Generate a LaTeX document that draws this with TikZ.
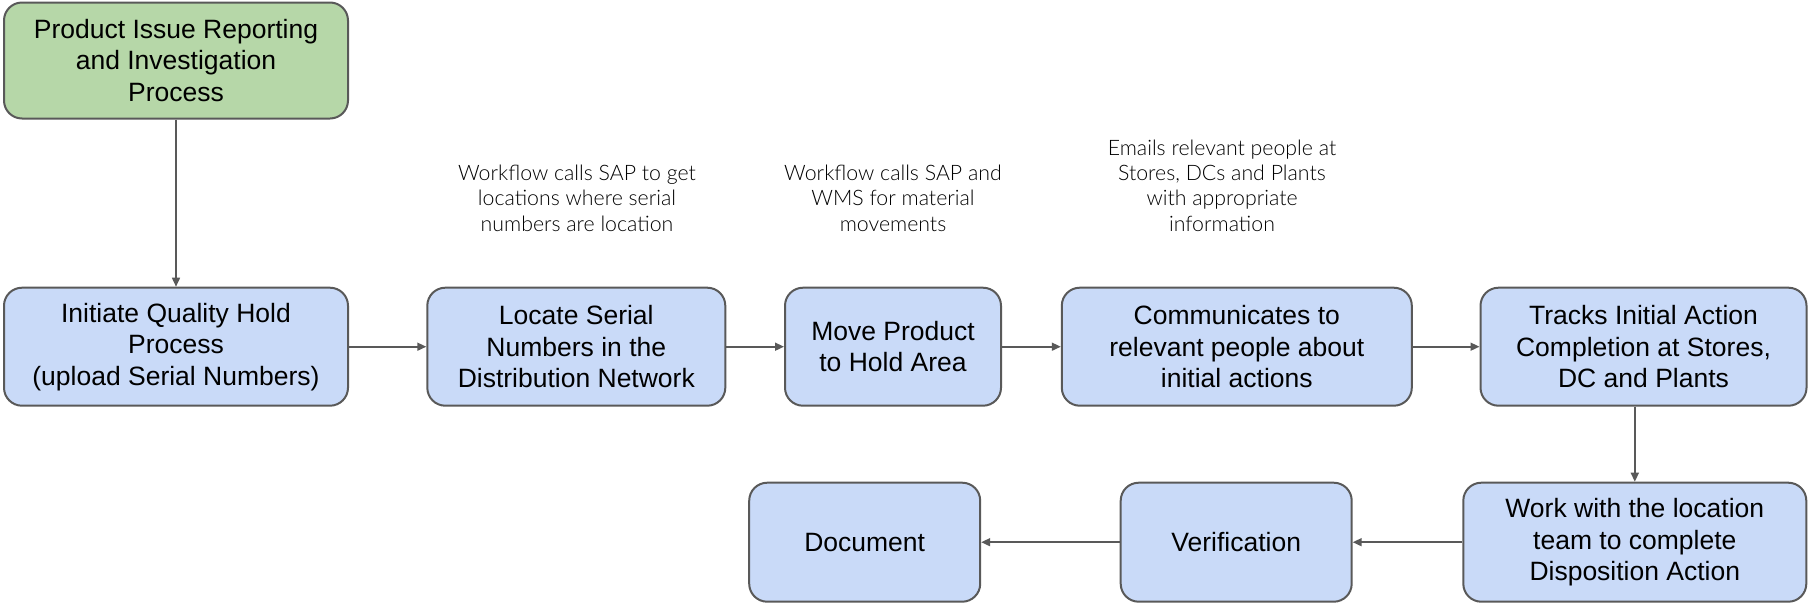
\documentclass[tikz,border=0pt]{standalone}
\usepackage{fontspec}
\setmainfont{Liberation Sans}
\newfontfamily\notefont{Lato Light}
\usetikzlibrary{arrows.meta}
\definecolor{boxblue}{HTML}{C9DAF8}
\definecolor{boxgreen}{HTML}{B6D7A8}
\definecolor{edge}{HTML}{595959}
\tikzset{
  proc/.style={draw=edge, line width=2pt, rounded corners=18pt, fill=boxblue,
    align=center, inner sep=0pt, minimum height=118pt,
    font=\fontsize{26.5}{31.5}\selectfont},
  start/.style={proc, fill=boxgreen},
  note/.style={align=center, inner sep=0pt, text=black,
    font=\notefont\fontsize{21.3}{25.4}\selectfont},
  flow/.style={draw=edge, line width=1.6pt, -{Triangle[length=9pt,width=8pt]}}
}
\begin{document}
\begin{tikzpicture}[x=1pt,y=-1pt]
\useasboundingbox (0,0) rectangle (1809,603);
% process boxes
\node[start, minimum width=344pt, minimum height=116pt] (issue) at (176,60.5)
  {Product Issue Reporting\\and Investigation\\Process};
\node[proc, minimum width=344pt] (hold) at (176,346.7)
  {Initiate Quality Hold\\Process\\(upload Serial Numbers)};
\node[proc, minimum width=298pt] (locate) at (576.3,346.7)
  {Locate Serial\\Numbers in the\\Distribution Network};
\node[proc, minimum width=216pt] (move) at (893,346.7)
  {Move Product\\to Hold Area};
\node[proc, minimum width=350pt] (comm) at (1236.8,346.7)
  {Communicates to\\relevant people about\\initial actions};
\node[proc, minimum width=326pt] (track) at (1643.5,346.7)
  {Tracks Initial Action\\Completion at Stores,\\DC and Plants};
\node[proc, minimum width=343pt, minimum height=119pt] (work) at (1634.8,542.2)
  {Work with the location\\team to complete\\Disposition Action};
\node[proc, minimum width=231pt, minimum height=119pt] (verify) at (1236.2,542.2)
  {Verification};
\node[proc, minimum width=231pt, minimum height=119pt] (doc) at (864.7,542.2)
  {Document};
% annotations
\node[note] (n1) at (577,198) {Workflow calls SAP to get\\locations where serial\\numbers are location};
\node[note] (n2) at (893,198) {Workflow calls SAP and\\WMS for material\\movements};
\node[note] (n3) at (1222,185.5) {Emails relevant people at\\Stores, DCs and Plants\\with appropriate\\information};
% connectors
\draw[flow] (issue.south) -- (hold.north);
\draw[flow] (hold.east) -- (locate.west);
\draw[flow] (locate.east) -- (move.west);
\draw[flow] (move.east) -- (comm.west);
\draw[flow] (comm.east) -- (track.west);
\draw[flow] (work.north |- track.south) -- (work.north);
\draw[flow] (work.west) -- (verify.east);
\draw[flow] (verify.west) -- (doc.east);
\end{tikzpicture}
\end{document}
